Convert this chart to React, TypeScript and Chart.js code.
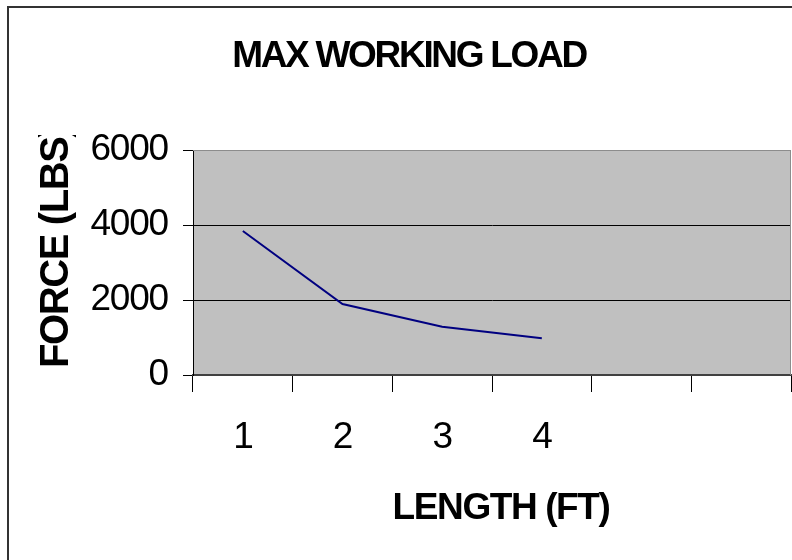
import { useEffect, useRef } from 'react';
import { Chart, registerables } from 'chart.js';

Chart.register(...registerables);

const chartTitle = 'MAX WORKING LOAD';
const xAxisTitle = 'LENGTH (FT)';
const yAxisTitle = 'FORCE (LBS)';
const categories = ['1', '2', '3', '4', '', ''];
const forceLbs = [3840, 1893, 1288, 978, null, null];
const yMin = 0;
const yMax = 6000;
const yStep = 2000;

const FONT = '"Liberation Sans", Arial, sans-serif';

const decorPlugin = {
  id: 'decor',
  beforeDraw(chart: any) {
    const { ctx, chartArea: a } = chart;
    ctx.save();
    ctx.fillStyle = '#ffffff';
    ctx.fillRect(0, 0, chart.width, chart.height);
    ctx.fillStyle = '#C0C0C0';
    ctx.fillRect(a.left, a.top, a.right - a.left, a.bottom - a.top);
    ctx.restore();
    ctx.letterSpacing = '-1.2px';
  },
  afterDraw(chart: any) {
    const { ctx, chartArea: a } = chart;
    ctx.save();
    ctx.strokeStyle = '#8c8c8c';
    ctx.lineWidth = 1;
    ctx.beginPath();
    ctx.moveTo(a.left, a.top + 0.5);
    ctx.lineTo(a.right - 0.5, a.top + 0.5);
    ctx.lineTo(a.right - 0.5, a.bottom);
    ctx.stroke();

    ctx.strokeStyle = '#333333';
    ctx.lineWidth = 2;
    ctx.strokeRect(8, 7, 900, 700);

    ctx.fillStyle = '#000000';
    ctx.textAlign = 'center';
    ctx.textBaseline = 'alphabetic';
    ctx.letterSpacing = '-2.3px';
    ctx.font = `bold 37px ${FONT}`;
    ctx.fillText(chartTitle, 409, 67);
    ctx.letterSpacing = '-1.4px';
    ctx.font = `bold 37px ${FONT}`;
    ctx.fillText(xAxisTitle, 501, 519);

    ctx.save();
    ctx.beginPath();
    ctx.rect(0, 135, 190, 420);
    ctx.clip();
    ctx.translate(68, 368);
    ctx.rotate(-Math.PI / 2);
    ctx.textAlign = 'left';
    ctx.font = `bold 40px ${FONT}`;
    ctx.letterSpacing = '-1.4px';
    ctx.fillText(yAxisTitle, 0, 0);
    ctx.restore();
    ctx.restore();
  },
};

export default function App() {
  const ref = useRef<HTMLCanvasElement>(null);
  useEffect(() => {
    if (!ref.current) return;
    const chart = new Chart(ref.current, {
      type: 'line',
      data: {
        labels: categories,
        datasets: [
          {
            data: forceLbs,
            borderColor: '#000080',
            borderWidth: 2,
            pointRadius: 0,
            tension: 0,
            fill: false,
          },
        ],
      },
      options: {
        animation: false,
        responsive: false,
        maintainAspectRatio: false,
        layout: { padding: { top: 150, right: 1, left: 0, bottom: 0 } },
        plugins: {
          legend: { display: false },
          title: { display: false },
          tooltip: { enabled: false },
        },
        scales: {
          x: {
            offset: true,
            grid: {
              offset: true,
              drawOnChartArea: false,
              tickLength: 17,
              tickColor: '#000000',
              tickWidth: 1,
            },
            border: { display: true, color: '#404040', width: 2 },
            ticks: {
              color: '#000000',
              font: { family: FONT, size: 37 },
              padding: 24,
              maxRotation: 0,
              autoSkip: false,
            },
            afterFit(scale: any) {
              scale.height = 185;
            },
          },
          y: {
            min: yMin,
            max: yMax,
            ticks: {
              stepSize: yStep,
              color: '#000000',
              font: { family: FONT, size: 37 },
              padding: 15,
              callback: (v: any) => String(v),
            },
            grid: {
              color: (c: any) => (c.tick && c.tick.value === yMax ? '#8c8c8c' : '#000000'),
              tickColor: '#000000',
              tickLength: 10,
              lineWidth: 1,
            },
            border: { display: true, color: '#000000', width: 1 },
            afterFit(scale: any) {
              scale.width = 193;
            },
          },
        },
      },
      plugins: [decorPlugin],
    });
    return () => chart.destroy();
  }, []);
  return (
    <div style={{ position: 'absolute', left: 0, top: 0, width: 792, height: 560 }}>
      <canvas ref={ref} width={792} height={560} style={{ display: 'block', width: 792, height: 560 }} />
    </div>
  );
}
